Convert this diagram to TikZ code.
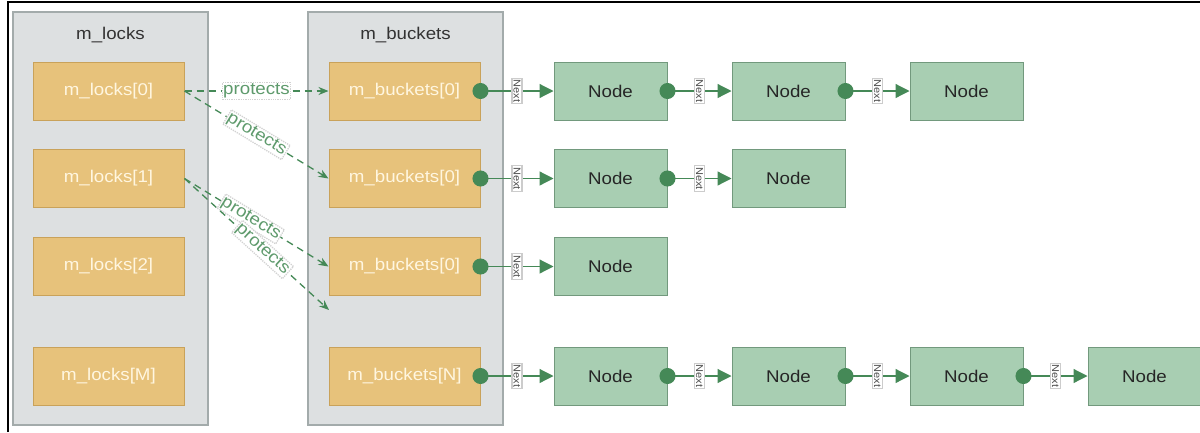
\documentclass[tikz,border=0pt]{standalone}
\usepackage{fontspec}
\setmainfont{Liberation Sans}[FakeStretch=1.1]
\usepackage{xcolor}
\usetikzlibrary{arrows.meta, positioning}

\definecolor{framefill}{HTML}{DDE0E1}
\definecolor{framedraw}{HTML}{A3ABAB}
\definecolor{goldfill}{HTML}{E7C27B}
\definecolor{golddraw}{HTML}{C9A25A}
\definecolor{goldtext}{HTML}{FFF6E0}
\definecolor{nodefill}{HTML}{A8CEB2}
\definecolor{nodedraw}{HTML}{72997D}
\definecolor{linkgreen}{HTML}{458957}
\definecolor{protectgreen}{HTML}{5E9A6C}

\begin{document}
\begin{tikzpicture}[
    x=1pt, y=-1pt,
    container/.style={
        rectangle,
        draw=framedraw,
        fill=framefill,
        line width=1.2pt,
        minimum width=195pt,
        minimum height=413pt
    },
    title/.style={
        font=\fontsize{17}{20}\selectfont,
        text=black!80
    },
    slotbox/.style={
        rectangle,
        draw=golddraw,
        fill=goldfill,
        line width=1pt,
        minimum width=151pt,
        minimum height=58pt,
        text=goldtext,
        font=\fontsize{17}{20}\selectfont
    },
    listnode/.style={
        rectangle,
        draw=nodedraw,
        fill=nodefill,
        line width=1pt,
        minimum width=113pt,
        minimum height=58pt,
        text=black!85,
        font=\fontsize{17}{20}\selectfont
    },
    nextlink/.style={
        draw=linkgreen,
        line width=1.2pt,
        shorten <=-8pt,
        {Circle[length=16pt]}-{Triangle[length=14pt,width=14pt]}
    },
    nextlabel/.style={
        rotate=-90,
        fill=white,
        draw=gray!40,
        inner sep=1.5pt,
        text=black!70,
        font=\fontsize{10}{11}\selectfont
    },
    protectlink/.style={
        draw=linkgreen,
        line width=1.3pt,
        dash pattern=on 7pt off 5pt,
        -{Stealth[length=10pt,width=8pt]}
    },
    protectlabel/.style={
        fill=white,
        draw=gray!35,
        densely dotted,
        inner sep=1pt,
        text=protectgreen,
        font=\fontsize{17}{20}\selectfont
    }
]
\useasboundingbox (0,0) rectangle (1200,432);

% Frame
\draw[line width=2pt] (8,432) -- (8,2) -- (1200,2);

% Containers
\node[container] (lockframe) at (110.5,218.5) {};
\node[title] (locktitle) at (110.5,35) {m\_locks};
\node[container] (bucketframe) at (405.5,218.5) {};
\node[title] (buckettitle) at (405.5,35) {m\_buckets};

% Locks
\node[slotbox] (lock0) at (108.5,91) {m\_locks[0]};
\node[slotbox] (lock1) at (108.5,178.5) {m\_locks[1]};
\node[slotbox] (lock2) at (108.5,266.5) {m\_locks[2]};
\node[slotbox] (lockM) at (108.5,376) {m\_locks[M]};

% Buckets
\node[slotbox, right=144pt of lock0] (bucket0) {m\_buckets[0]};
\node[slotbox, right=144pt of lock1] (bucket1) {m\_buckets[0]};
\node[slotbox, right=144pt of lock2] (bucket2) {m\_buckets[0]};
\node[slotbox, right=144pt of lockM] (bucketN) {m\_buckets[N]};

% List nodes
\node[listnode, right=73pt of bucket0] (n00) {Node};
\node[listnode, right=64pt of n00] (n01) {Node};
\node[listnode, right=64pt of n01] (n02) {Node};

\node[listnode, right=73pt of bucket1] (n10) {Node};
\node[listnode, right=64pt of n10] (n11) {Node};

\node[listnode, right=73pt of bucket2] (n20) {Node};

\node[listnode, right=73pt of bucketN] (n30) {Node};
\node[listnode, right=64pt of n30] (n31) {Node};
\node[listnode, right=64pt of n31] (n32) {Node};
\node[listnode, right=64pt of n32] (n33) {Node};

% Next links
\draw[nextlink] (bucket0) -- node[nextlabel] {Next} (n00);
\draw[nextlink] (n00) -- node[nextlabel] {Next} (n01);
\draw[nextlink] (n01) -- node[nextlabel] {Next} (n02);
\draw[nextlink] (bucket1) -- node[nextlabel] {Next} (n10);
\draw[nextlink] (n10) -- node[nextlabel] {Next} (n11);
\draw[nextlink] (bucket2) -- node[nextlabel] {Next} (n20);
\draw[nextlink] (bucketN) -- node[nextlabel] {Next} (n30);
\draw[nextlink] (n30) -- node[nextlabel] {Next} (n31);
\draw[nextlink] (n31) -- node[nextlabel] {Next} (n32);
\draw[nextlink] (n32) -- node[nextlabel] {Next} (n33);

% Protects
\coordinate (emptyslot) at (329,310);
\draw[protectlink] (lock0) -- node[protectlabel] {protects} (bucket0);
\draw[protectlink] (lock0.east) -- node[protectlabel, sloped] {protects} (bucket1.west);
\draw[protectlink] (lock1.east) -- node[protectlabel, sloped, pos=0.46] {protects} (bucket2.west);
\draw[protectlink] (lock1.east) -- node[protectlabel, sloped, pos=0.54] {protects} (emptyslot);

\end{tikzpicture}
\end{document}
